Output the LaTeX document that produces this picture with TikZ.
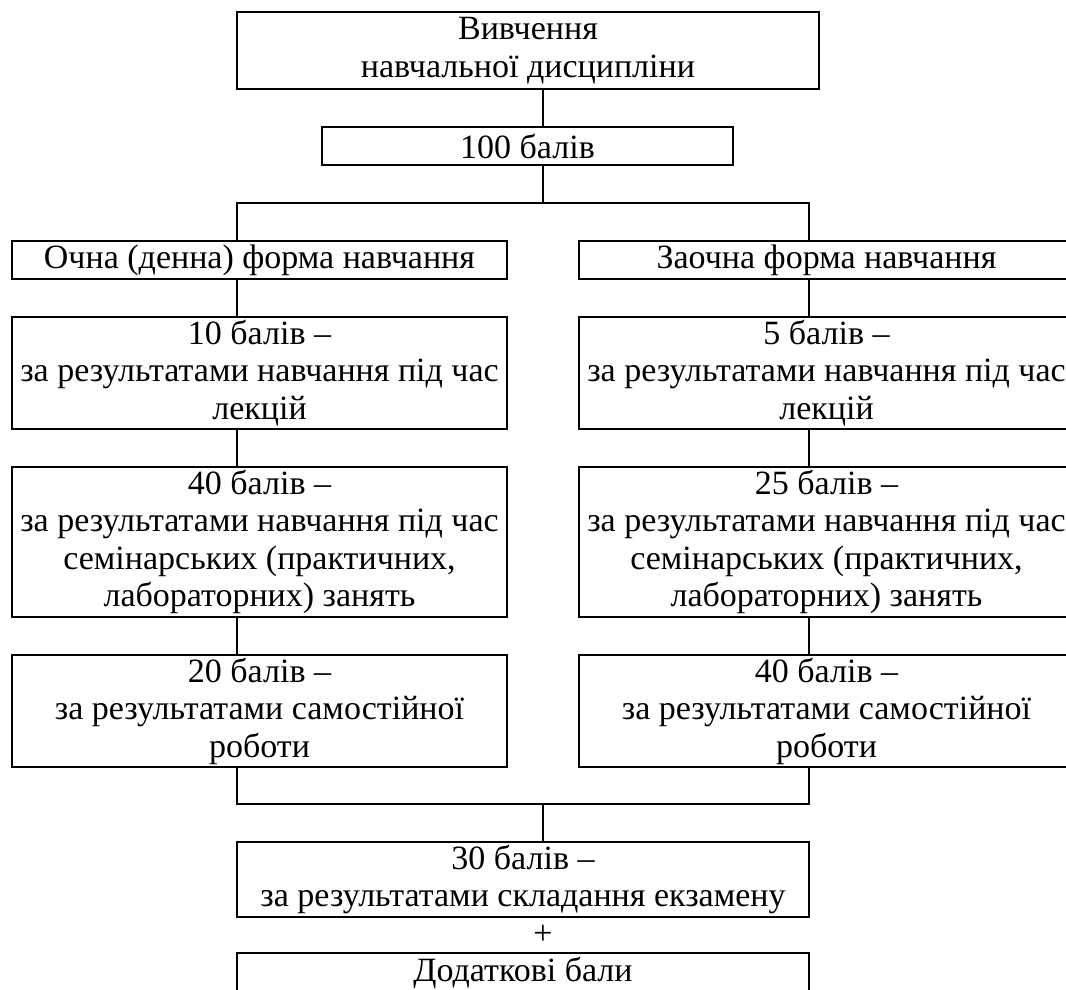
\documentclass[tikz,border=0pt]{standalone}
\usepackage{fontspec}
\setmainfont{Liberation Serif}
\usetikzlibrary{positioning}

\begin{document}
\begin{tikzpicture}[
  x=0.5pt, y=-0.5pt,
  box/.style = {rectangle, draw, line width=0.9pt, inner sep=0pt,
                align=center, font=\fontsize{17pt}{18.75pt}\selectfont},
  colbox/.style = {box, minimum width=247.5pt},
  link/.style = {line width=0.9pt}
]
  \clip (0,0) rectangle (1066,990);

  % junction points
  \coordinate (split) at (543,203);
  \coordinate (merge) at (543,804);
  \coordinate (lcol)  at (237,0);
  \coordinate (rcol)  at (809,0);

  \node[box, minimum width=291pt, minimum height=38.5pt] (study) at (528,50.5)
    {Вивчення\\навчальної дисципліни};
  \node[box, minimum width=205.5pt, minimum height=19pt] (hundred) at (527.5,146)
    {100 балів};

  % day form
  \node[colbox, minimum height=19pt]   (full)    at (259.5,260) {Очна (денна) форма навчання};
  \node[colbox, minimum height=56.25pt] (lecfull)  at (259.5,373)
    {10 балів –\\за результатами навчання під час\\лекцій};
  \node[colbox, minimum height=75pt]   (semfull)  at (259.5,542)
    {40 балів –\\за результатами навчання під час\\семінарських (практичних,\\лабораторних) занять};
  \node[colbox, minimum height=56.25pt] (selffull) at (259.5,711)
    {20 балів –\\за результатами самостійної\\роботи};

  % extramural form
  \node[colbox, minimum height=19pt]   (part)    at (826.5,260) {Заочна форма навчання};
  \node[colbox, minimum height=56.25pt] (lecpart)  at (826.5,373)
    {5 балів –\\за результатами навчання під час\\лекцій};
  \node[colbox, minimum height=75pt]   (sempart)  at (826.5,542)
    {25 балів –\\за результатами навчання під час\\семінарських (практичних,\\лабораторних) занять};
  \node[colbox, minimum height=56.25pt] (selfpart) at (826.5,711)
    {40 балів –\\за результатами самостійної\\роботи};

  \node[box, minimum width=286pt, minimum height=37.5pt] (exam) at (523,879.5)
    {30 балів –\\за результатами складання екзамену};
  \node[font=\fontsize{17pt}{18.75pt}\selectfont, inner sep=0pt] (plus) at (543,935) {+};
  \node[box, minimum width=286pt, minimum height=20pt] (extra) at (523,973)
    {Додаткові бали};

  \draw[link] (study.south -| split) -- (hundred.north -| split);
  \draw[link] (hundred.south -| split) -- (split);
  \draw[link] (full.north -| lcol) |- (split) -| (part.north -| rcol);

  \foreach \a/\b in {full/lecfull, lecfull/semfull, semfull/selffull}
    \draw[link] (\a.south -| lcol) -- (\b.north -| lcol);
  \foreach \a/\b in {part/lecpart, lecpart/sempart, sempart/selfpart}
    \draw[link] (\a.south -| rcol) -- (\b.north -| rcol);

  \draw[link] (selffull.south -| lcol) |- (merge) -| (selfpart.south -| rcol);
  \draw[link] (merge) -- (exam.north -| merge);
\end{tikzpicture}
\end{document}
